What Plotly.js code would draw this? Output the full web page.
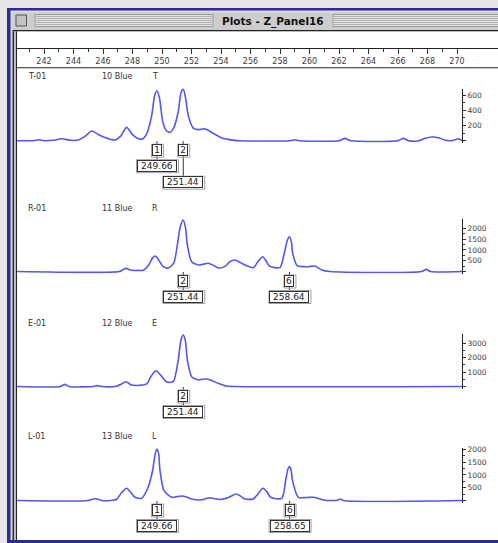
<!DOCTYPE html>
<html>
<head>
<meta charset="utf-8">
<script src="https://cdn.plot.ly/plotly-3.0.1.min.js"></script>
<style>html,body{margin:0;padding:0;background:#e6e6e6;}#plot{width:498px;height:543px;}</style>
</head>
<body>
<div id="plot"></div>
<script>
// ---------- DATA ----------
const windowTitle = 'Plots - Z_Panel16';
const panelNames = ['T-01', 'R-01', 'E-01', 'L-01'];
const dyeLabels = ['10 Blue', '11 Blue', '12 Blue', '13 Blue'];
const markerLabels = ['T', 'R', 'E', 'L'];
const rulerTicks = [242,244,246,248,250,252,254,256,258,260,262,264,266,268,270];
const rulerMinor = [241,243,245,247,249,251,253,255,257,259,261,263,265,267,269];

// panel T-01
const T_size = [240.17,241.3,241.68,242.0,242.6,243.2,243.8,244.3,244.8,245.23,245.7,246.1,246.8,247.2,247.6,248.0,248.3,248.62,248.96,249.3,249.5,249.66,249.83,250.05,250.3,250.54,250.8,251.1,251.3,251.44,251.6,251.78,252.12,252.5,252.85,253.2,253.48,254.05,254.83,255.3,258.7,259.0,259.3,262.0,262.4,262.8,266.0,266.36,266.7,267.4,267.8,268.3,268.8,269.2,269.7,270.09,270.34];
const T_rfu  = [0,0,12,0,5,25,5,8,60,127,80,45,10,60,175,80,35,18,90,330,590,655,560,250,130,110,170,380,640,677,560,330,165,145,157,130,96,37,8,0,0,12,0,0,30,0,0,30,0,0,30,48,35,5,2,25,0];
const T_ticks = [200,400,600];
const T_peakSize = [249.66, 251.44];
const T_peakNum = ['1','2'];

// panel R-01
const R_size = [240.17,247.1,247.35,247.56,247.8,247.94,248.4,248.73,249.1,249.35,249.55,249.75,250.09,250.43,250.8,251.04,251.25,251.44,251.6,251.72,252.01,252.46,252.8,253.14,253.5,253.82,254.3,254.6,254.95,255.3,255.74,256.19,256.5,256.83,257.05,257.27,257.6,258.0,258.29,258.5,258.64,258.78,258.86,259.17,259.6,259.92,260.37,260.83,261.39,267.6,267.9,268.2,270.34];
const R_rfu  = [0,0,80,145,80,55,50,60,300,620,718,560,222,162,400,1227,2100,2384,2000,1227,454,300,340,380,280,162,250,450,532,420,269,176,450,685,500,255,185,176,843,1450,1611,1350,843,269,225,222,255,70,0,0,100,0,0];
const R_ticks = [500,1000,1500,2000];
const R_peakSize = [251.44, 258.64];
const R_peakNum = ['2','6'];

// panel E-01
const E_size = [240.17,243.1,243.42,243.7,245.3,245.57,245.9,246.9,247.3,247.56,247.8,247.94,248.5,248.96,249.25,249.59,249.9,250.32,250.77,251.1,251.3,251.44,251.58,251.72,252.01,252.46,252.75,253.07,253.4,253.82,254.38,254.8,270.34];
const E_rfu  = [0,0,150,0,0,60,0,20,200,333,180,100,90,180,700,1097,800,312,360,1840,3300,3574,3200,1840,680,451,500,520,400,222,30,0,0];
const E_ticks = [1000,2000,3000];
const E_peakSize = [251.44];
const E_peakNum = ['2'];

// panel L-01
const L_size = [240.17,245.0,245.35,245.63,245.9,246.5,246.93,247.25,247.6,247.9,248.17,248.62,249.07,249.37,249.55,249.66,249.78,249.86,250.14,250.66,251.0,251.34,251.7,252.01,252.58,252.9,253.21,253.5,253.93,254.5,255.02,255.3,255.63,256.19,256.5,256.83,257.1,257.37,258.12,258.39,258.55,258.65,258.75,258.84,259.24,259.8,260.26,260.6,260.94,261.6,261.9,262.11,262.3,270.34];
const L_rfu  = [0,0,60,59,0,0,50,300,477,300,125,86,540,1193,1850,2000,1800,1193,383,125,150,176,130,59,20,60,110,80,40,120,254,180,59,60,250,477,350,125,86,802,1250,1322,1200,802,125,120,125,80,20,0,10,60,0,0];
const L_ticks = [500,1000,1500,2000];
const L_peakSize = [249.66, 258.65];
const L_peakNum = ['1','6'];

// ---------- LAYOUT HELPERS ----------
const W = 498, H = 543;
const PX = x => x / W;
const PY = y => 1 - y / H;
const X0 = 240.1695, X1 = 272.78, XL = 17;
const v2px = v => XL + (v - X0) / (X1 - X0) * (W - XL);
const px2d = d => d * (X1 - X0) / (W - XL);
const FONT = 'DejaVu Sans, Verdana, sans-serif';
const lineColor = '#5656ec';

const panels = [
  {size: T_size, rfu: T_rfu, ticks: T_ticks, peaks: T_peakSize, nums: T_peakNum, base: 140.7, top: 88.5, upp: 600/45.7, head: 77},
  {size: R_size, rfu: R_rfu, ticks: R_ticks, peaks: R_peakSize, nums: R_peakNum, base: 271.5, top: 219, upp: 2000/43.2, head: 208.3},
  {size: E_size, rfu: E_rfu, ticks: E_ticks, peaks: E_peakSize, nums: E_peakNum, base: 386.5, top: 334, upp: 3000/43.2, head: 323.3},
  {size: L_size, rfu: L_rfu, ticks: L_ticks, peaks: L_peakSize, nums: L_peakNum, base: 500.5, top: 448, upp: 2000/51.2, head: 436.7}
];

const shapes = [];
const annotations = [];
const rect = (x0,y0,x1,y1,fill,line,layer) => shapes.push({type:'rect',xref:'paper',yref:'paper',x0:PX(x0),x1:PX(x1),y0:PY(y1),y1:PY(y0),fillcolor:fill,line:line||{width:0},layer:layer||'below'});
const hline = (x0,x1,y,color,w) => shapes.push({type:'line',xref:'paper',yref:'paper',x0:PX(x0),x1:PX(x1),y0:PY(y),y1:PY(y),line:{color:color,width:w||1},layer:'below'});

// window chrome
rect(7,8,W+2,H+2,'#2c2c94');
rect(10.5,10.5,W+2,540,'#d9d9e2');
rect(12.5,12.5,W+2,30,'#cdcdcd');
rect(12.5,30,W+2,31.5,'#222');
rect(12.5,31.5,14,540,'#333');
rect(14,31.5,16,540,'#bdbdbd');
rect(16,31.5,17,540,'#222');
rect(17,31.5,W+2,540,'#ffffff');
rect(17,67.2,W+2,68.2,'#222');
// title bar stripes
[[35,213],[333,W+2]].forEach(([a,b]) => {
  rect(a,14.5,b,26.5,'#e2e2e2',{color:'#9a9a9a',width:1});
  for (let y = 16.5; y <= 25; y += 2) hline(a+1,b-1,y,'#b0b0b0',1);
});
rect(16,15,26.5,26,'#c2c2c2',{color:'#555',width:1});
annotations.push({xref:'paper',yref:'paper',x:PX(273),y:PY(21.5),text:'<b>'+windowTitle+'</b>',showarrow:false,
  font:{family:FONT,size:10.5,color:'#111'},xanchor:'center',yanchor:'middle',bgcolor:'#cdcdcd'});

const data = [];
const layout = {
  width: W, height: H,
  margin: {l:0,r:0,t:0,b:0,pad:0},
  paper_bgcolor: '#e6e6e6', plot_bgcolor: 'rgba(0,0,0,0)',
  showlegend: false,
  font: {family: FONT},
  xaxis: {
    domain: [XL/W, 1], range: [X0, X1], anchor: 'free', position: PY(48.3), side: 'bottom',
    showline: true, linecolor: '#222', linewidth: 1, showgrid: false, zeroline: false,
    tickmode: 'array', tickvals: rulerTicks, ticktext: rulerTicks.map(String),
    ticks: 'outside', ticklen: 5, tickcolor: '#333', tickwidth: 1,
    tickfont: {family: FONT, size: 8, color: '#3a3a3a'},
    minor: {tickmode: 'array', tickvals: rulerMinor, ticks: 'outside', ticklen: 3, tickcolor: '#333', tickwidth: 1, showgrid: false}
  },
  shapes: shapes, annotations: annotations
};

panels.forEach((p, i) => {
  const ya = i === 0 ? 'yaxis' : 'yaxis' + (i + 1);
  const yref = i === 0 ? 'y' : 'y' + (i + 1);
  const step = p.ticks[1] - p.ticks[0];
  const minor = [];
  for (let v = step/2; v < p.ticks[p.ticks.length-1]; v += step) minor.push(v);
  layout[ya] = {
    domain: [PY(p.base + 2), PY(p.top)],
    range: [-2 * p.upp, (p.base - p.top) * p.upp],
    anchor: 'free', position: 462 / W, side: 'right',
    showline: true, linecolor: '#222', linewidth: 1, showgrid: false, zeroline: false,
    tickmode: 'array', tickvals: [0].concat(p.ticks), ticktext: [''].concat(p.ticks.map(String)),
    ticks: 'outside', ticklen: 3, tickcolor: '#333', tickwidth: 1,
    tickfont: {family: FONT, size: 7.5, color: '#3a3a3a'},
    minor: {tickmode: 'array', tickvals: minor, ticks: 'outside', ticklen: 2, tickcolor: '#333', tickwidth: 1, showgrid: false}
  };
  data.push({
    type: 'scatter', mode: 'lines', x: p.size, y: p.rfu, xaxis: 'x', yaxis: yref,
    line: {color: lineColor, width: 1.6, shape: 'spline', smoothing: 0.7},
    hoverinfo: 'skip'
  });
  // header texts
  const hf = {family: FONT, size: 8, color: '#333'};
  annotations.push({xref:'paper',yref:'paper',x:PX(26),y:PY(p.head),text:panelNames[i],showarrow:false,xanchor:'left',yanchor:'middle',font:hf});
  annotations.push({xref:'paper',yref:'paper',x:PX(100),y:PY(p.head),text:dyeLabels[i],showarrow:false,xanchor:'left',yanchor:'middle',font:hf});
  annotations.push({xref:'paper',yref:'paper',x:PX(150),y:PY(p.head),text:markerLabels[i],showarrow:false,xanchor:'left',yanchor:'middle',font:hf});
  // peak labels
  let prevPx = -1e9, row = 0;
  p.peaks.forEach((s, k) => {
    const xpx = v2px(s);
    row = (xpx - prevPx < 42) ? row + 1 : 0;
    prevPx = xpx;
    const b = p.base;
    const boxC = b + 9.5;
    const numC = b + 25 + row * 16.5;
    shapes.push({type:'line',xref:'x',yref:'paper',x0:s,x1:s,y0:PY(b+0.5),y1:PY(boxC-6),line:{color:'#333',width:1},layer:'above'});
    shapes.push({type:'line',xref:'x',yref:'paper',x0:s,x1:s,y0:PY(boxC+6),y1:PY(numC-6),line:{color:'#333',width:1},layer:'above'});
    // soft shadow frames
    shapes.push({type:'rect',xref:'x',yref:'paper',x0:s-px2d(5.5),x1:s+px2d(6.5),y0:PY(boxC+7),y1:PY(boxC-6),fillcolor:'rgba(0,0,0,0)',line:{color:'#a0a0a0',width:1},layer:'above'});
    shapes.push({type:'rect',xref:'x',yref:'paper',x0:s-px2d(20.5),x1:s+px2d(21.5),y0:PY(numC+7),y1:PY(numC-6),fillcolor:'rgba(0,0,0,0)',line:{color:'#a0a0a0',width:1},layer:'above'});
    annotations.push({xref:'x',yref:'paper',x:s,y:PY(boxC),text:p.nums[k],showarrow:false,xanchor:'center',yanchor:'middle',
      font:{family:FONT,size:9,color:'#222'},bgcolor:'#fff',bordercolor:'#333',borderwidth:1,borderpad:0,width:8,height:10});
    annotations.push({xref:'x',yref:'paper',x:s,y:PY(numC),text:s.toFixed(2),showarrow:false,xanchor:'center',yanchor:'middle',
      font:{family:FONT,size:9,color:'#222'},bgcolor:'#fff',bordercolor:'#333',borderwidth:1,borderpad:0,width:38,height:10});
  });
});

Plotly.newPlot('plot', data, layout, {staticPlot: true, displayModeBar: false});
</script>
</body>
</html>
